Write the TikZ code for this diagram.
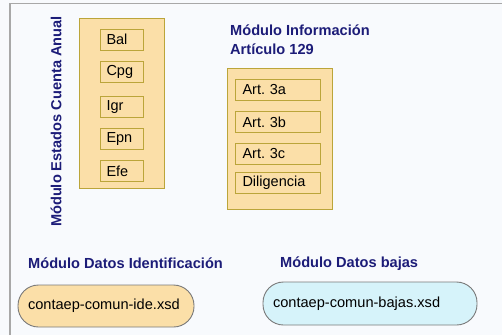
\documentclass[tikz,border=0pt]{standalone}
\usepackage{fontspec}
\setmainfont{Liberation Sans}
\frenchspacing
\definecolor{bg}{HTML}{F8FAFD}
\definecolor{frameline}{HTML}{A8A8A8}
\definecolor{tan}{HTML}{FBDFA8}
\definecolor{olive}{HTML}{BBA53A}
\definecolor{navy}{HTML}{1C1C78}
\definecolor{cyanfill}{HTML}{D6F3FA}
\definecolor{pillline}{HTML}{7A7A7A}
\tikzset{
  module/.style={draw=olive, fill=tan, line width=0.9pt, inner sep=0pt},
  item/.style={draw=olive, fill=tan, line width=0.9pt, minimum width=43pt, minimum height=21pt, inner sep=0pt, text width=30pt, align=left, font=\fontsize{14.5}{15}\selectfont\frenchspacing},
  itemb/.style={item, minimum width=85pt, text width=70pt},
  title/.style={text=navy, font=\fontsize{14.6}{19}\selectfont\bfseries, inner sep=0pt, align=left},
  pill/.style={rectangle, rounded corners=20.5pt, draw=pillline, line width=0.9pt, inner sep=0pt, align=left, font=\fontsize{14.6}{16}\selectfont}
}
\begin{document}
\begin{tikzpicture}[x=1pt,y=-1pt]
\useasboundingbox (0,0) rectangle (502,335);
\fill[bg] (0,0) rectangle (502,335);
\coordinate (ftl) at (10,3.5);
\coordinate (fbl) at (10,335);
\coordinate (ftr) at (502,3.5);
\draw[frameline, line width=1.2pt] (fbl) -- (ftl) -- (ftr);
% module 1
\node[module, minimum width=85pt, minimum height=170pt] (m1) at (121.5,103) {};
\node[title, rotate=90, anchor=center] (t1) at (56,121.5) {Módulo Estados Cuenta Anual};
\node[item] (bal) at (121.5,39.5) {Bal};
\node[item] (cpg) at (121.5,71.5) {Cpg};
\node[item] (igr) at (121.5,107) {Igr};
\node[item] (epn) at (121.5,139) {Epn};
\node[item] (efe) at (121.5,171) {Efe};
% module 2
\node[title, anchor=west] (t2) at (230,39.5) {Módulo Información\\Artículo 129};
\node[module, minimum width=105pt, minimum height=141pt] (m2) at (279.5,138.5) {};
\node[itemb] (a3a) at (277.5,90) {Art. 3a};
\node[itemb] (a3b) at (277.5,122) {Art. 3b};
\node[itemb] (a3c) at (277.5,153.5) {Art. 3c};
\node[itemb] (dil) at (277.5,182.5) {Diligencia};
% bottom
\node[title, anchor=west] (t3) at (28,263) {Módulo Datos Identificación};
\node[title, anchor=west] (t4) at (280,264) {Módulo Datos bajas};
\node[pill, fill=tan, minimum width=176pt, minimum height=42pt, text width=156pt] (ide) at (106,306) {contaep-comun-ide.xsd};
\node[pill, fill=cyanfill, minimum width=214pt, minimum height=43pt, text width=194pt] (baj) at (370,303.5) {contaep-comun-bajas.xsd};
\end{tikzpicture}
\end{document}
